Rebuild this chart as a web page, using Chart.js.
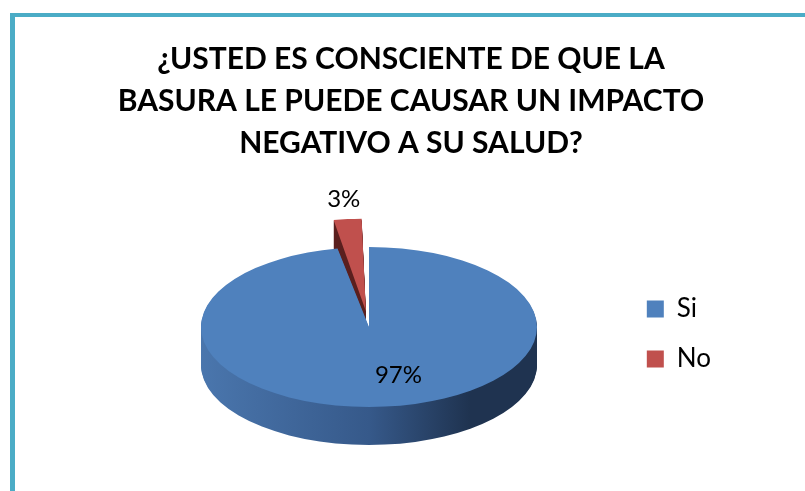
<!DOCTYPE html>
<html lang="es">
<head>
<meta charset="UTF-8">
<title>Impacto de la basura en la salud</title>
<script src="https://cdn.jsdelivr.net/npm/chart.js"></script>
<style>
    html, body { margin: 0; padding: 0; background: #fff; }
    #wrap { position: relative; width: 805px; height: 491px; overflow: hidden; }
    #frame {
        position: absolute; left: 10px; top: 13px; width: 900px; height: 600px;
        border-left: 5px solid #4bacc6; border-top: 4px solid #4bacc6;
    }
    canvas { position: absolute; left: 0; top: 0; }
</style>
</head>
<body>
<div id="wrap">
    <div id="frame"></div>
    <canvas id="pieChart" width="805" height="491"></canvas>
</div>
<script>
const titleLines = ['¿USTED ES CONSCIENTE DE QUE LA', 'BASURA LE PUEDE CAUSAR UN IMPACTO', 'NEGATIVO A SU SALUD?'];
const labels = ['Si', 'No'];
const values = [97, 3];
const topColors = ['#4f81bd', '#c0504d'];
const sideColors = [['#4a76ad', '#36598a', '#1f3350'], ['#5a1f1e', '#5a1f1e', '#5a1f1e']];

const total = values.reduce((a, b) => a + b, 0);

// fake 3D: squash the pie and stack darker copies under it
const pie3d = {
    id: 'pie3d',
    beforeDatasetsDraw(chart, args, opts) {
        const ctx = chart.ctx;
        const arcs = chart.getDatasetMeta(0).data;
        const cx = arcs[0].x, cy = arcs[0].y, r = arcs[0].outerRadius;
        const place = () => {
            ctx.translate(opts.centerX, opts.centerY);
            ctx.scale(1, opts.tilt);
            ctx.translate(-cx, -cy);
        };
        const fills = sideColors.map(c => {
            const g = ctx.createLinearGradient(cx - r, 0, cx + r, 0);
            g.addColorStop(0, c[0]);
            g.addColorStop(0.5, c[1]);
            g.addColorStop(0.8, c[2]);
            g.addColorStop(1, c[2]);
            return g;
        });
        for (let d = opts.depth; d > 0; d--) {
            ctx.save();
            ctx.translate(0, d);
            place();
            arcs.forEach((arc, i) => {
                const saved = arc.options;
                arc.options = { ...saved, backgroundColor: fills[i], borderWidth: 0 };
                arc.draw(ctx);
                arc.options = saved;
            });
            ctx.restore();
        }
        ctx.save();
        place();
    },
    afterDatasetsDraw(chart, args, opts) {
        const ctx = chart.ctx;
        ctx.restore();
        const arcs = chart.getDatasetMeta(0).data;
        ctx.save();
        ctx.font = '24px Lato';
        ctx.fillStyle = '#000';
        ctx.textAlign = 'center';
        ctx.textBaseline = 'middle';
        arcs.forEach((arc, i) => {
            const mid = (arc.startAngle + arc.endAngle) / 2;
            const share = values[i] / total;
            const rr = arc.outerRadius * (share < 0.1 ? 1.6 : 0.6);
            const x = opts.centerX + Math.cos(mid) * rr + (share < 0.1 ? 0 : 20);
            const y = opts.centerY + Math.sin(mid) * rr * opts.tilt;
            ctx.fillText(Math.round(share * 100) + '%', x, y);
        });
        ctx.restore();
    }
};

new Chart(document.getElementById('pieChart'), {
    type: 'pie',
    data: {
        labels: labels,
        datasets: [{
            data: values,
            backgroundColor: topColors,
            borderWidth: 0,
            radius: 168,
            offset: [0, 132],
            hoverOffset: 0,
            clip: false
        }]
    },
    options: {
        responsive: false,
        animation: false,
        events: [],
        layout: { padding: { left: 101, right: 84, top: 0, bottom: 95 } },
        plugins: {
            title: {
                display: true,
                text: titleLines,
                color: '#000',
                font: { family: 'Lato', size: 30, weight: 'bold', lineHeight: 1.4 },
                padding: { top: 38, bottom: 8 }
            },
            legend: {
                position: 'right',
                align: 'end',
                labels: {
                    color: '#000',
                    font: { family: 'Lato', size: 26 },
                    boxWidth: 17,
                    boxHeight: 17,
                    padding: 24
                }
            },
            tooltip: { enabled: false },
            pie3d: { centerX: 369, centerY: 327, tilt: 0.476, depth: 38 }
        }
    },
    plugins: [pie3d]
});
</script>
</body>
</html>
